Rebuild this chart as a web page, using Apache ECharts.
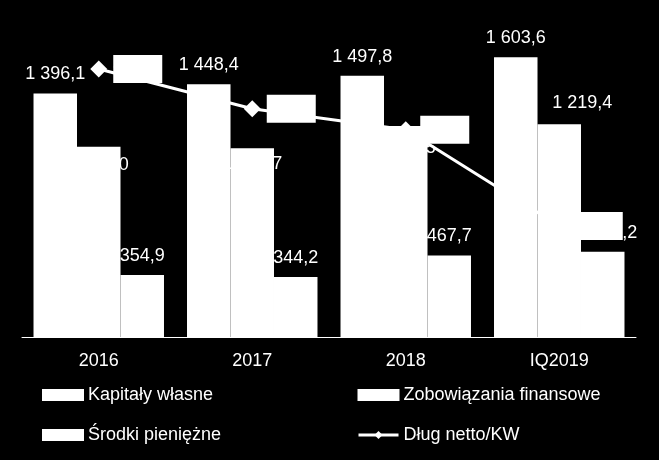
<!DOCTYPE html>
<html>
<head>
<meta charset="utf-8">
<script src="https://cdn.jsdelivr.net/npm/echarts@6/dist/echarts.min.js"></script>
<style>
html,body{margin:0;padding:0;background:#000;}
#chart{width:659px;height:460px;}
</style>
</head>
<body>
<div id="chart"></div>
<script>
const categories = ['2016', '2017', '2018', 'IQ2019'];
const kapitaly = [1396.1, 1448.4, 1497.8, 1603.6];
const zobowiazania = [1090.0, 1081.7, 1209.5, 1219.4];
const srodki = [354.9, 344.2, 467.7, 488.2];
const dlugNetto = [0.528, 0.509, 0.499, 0.453];
const seriesNames = ['Kapitały własne', 'Zobowiązania finansowe', 'Środki pieniężne', 'Dług netto/KW'];

const FONT = 'Liberation Sans, Arial, sans-serif';

function fmt(v) {
  const parts = v.toFixed(1).split('.');
  const intPart = parts[0].replace(/\B(?=(\d{3})+(?!\d))/g, ' ');
  return intPart + ',' + parts[1];
}
function fmt2(v) {
  return v.toFixed(2).replace('.', ',');
}

const baseLabel = {
  show: true, color: '#fff', fontSize: 18, fontFamily: FONT,
  formatter: p => fmt(p.value)
};

const zobLabelCfg = [
  { position: 'insideTop', distance: 9 },
  { position: 'insideTop', distance: 7 },
  { position: 'insideTop', distance: 13 },
  { position: 'top', distance: 12, offset: [23, 0] }
];
const srodkiLabelCfg = [{}, {}, {}, { offset: [12, 0] }];

const barStyle = { color: '#fff', borderColor: '#fff', borderWidth: 1.6 };

const chart = echarts.init(document.getElementById('chart'), null, { renderer: 'canvas' });

const option = {
  backgroundColor: '#000',
  animation: false,
  grid: { left: 22, right: 23, top: 23, bottom: 123, containLabel: false },
  legend: [
    {
      orient: 'vertical', left: 42, top: 386, padding: 0, itemGap: 22,
      itemWidth: 40, itemHeight: 10,
      textStyle: { color: '#fff', fontSize: 18, fontFamily: FONT },
      data: [
        { name: seriesNames[0], icon: 'rect' },
        { name: seriesNames[2], icon: 'rect' }
      ]
    },
    {
      orient: 'vertical', left: 357, top: 386, padding: 0, itemGap: 22,
      itemWidth: 40, itemHeight: 10,
      textStyle: { color: '#fff', fontSize: 18, fontFamily: FONT },
      data: [
        { name: seriesNames[1], icon: 'rect' },
        { name: seriesNames[3], lineStyle: { width: 3 } }
      ]
    }
  ],
  xAxis: {
    type: 'category',
    data: categories,
    axisLine: { show: true, lineStyle: { color: '#fff', width: 1 } },
    axisTick: { show: false },
    axisLabel: { color: '#fff', fontSize: 18, fontFamily: FONT, margin: 15 },
    splitLine: { show: false }
  },
  yAxis: [
    { type: 'value', min: 0, max: 1800, show: false, splitLine: { show: false } },
    { type: 'value', min: 0.4, max: 0.55, show: false, splitLine: { show: false } }
  ],
  series: [
    {
      name: seriesNames[0], type: 'bar', barGap: '0%', barCategoryGap: '15%',
      itemStyle: barStyle,
      label: Object.assign({}, baseLabel, { position: 'top', distance: 10 }),
      data: kapitaly
    },
    {
      name: seriesNames[1], type: 'bar', barGap: '0%', barCategoryGap: '15%',
      itemStyle: barStyle,
      label: Object.assign({}, baseLabel),
      data: zobowiazania.map((v, i) => ({ value: v, label: zobLabelCfg[i] }))
    },
    {
      name: seriesNames[2], type: 'bar', barGap: '0%', barCategoryGap: '15%',
      itemStyle: barStyle,
      label: Object.assign({}, baseLabel, { position: 'top', distance: 10 }),
      data: srodki.map((v, i) => ({ value: v, label: srodkiLabelCfg[i] }))
    },
    {
      name: seriesNames[3], type: 'line', yAxisIndex: 1, z: 5,
      symbol: 'diamond', symbolSize: 17,
      lineStyle: { color: '#fff', width: 3 },
      itemStyle: { color: '#fff' },
      label: {
        show: true, position: 'right', distance: 6,
        color: '#fff', backgroundColor: '#fff',
        fontSize: 16, fontFamily: FONT,
        width: 49, height: 28, lineHeight: 28, padding: 0,
        formatter: p => fmt2(p.value)
      },
      data: dlugNetto
    }
  ]
};
chart.setOption(option);
</script>
</body>
</html>
